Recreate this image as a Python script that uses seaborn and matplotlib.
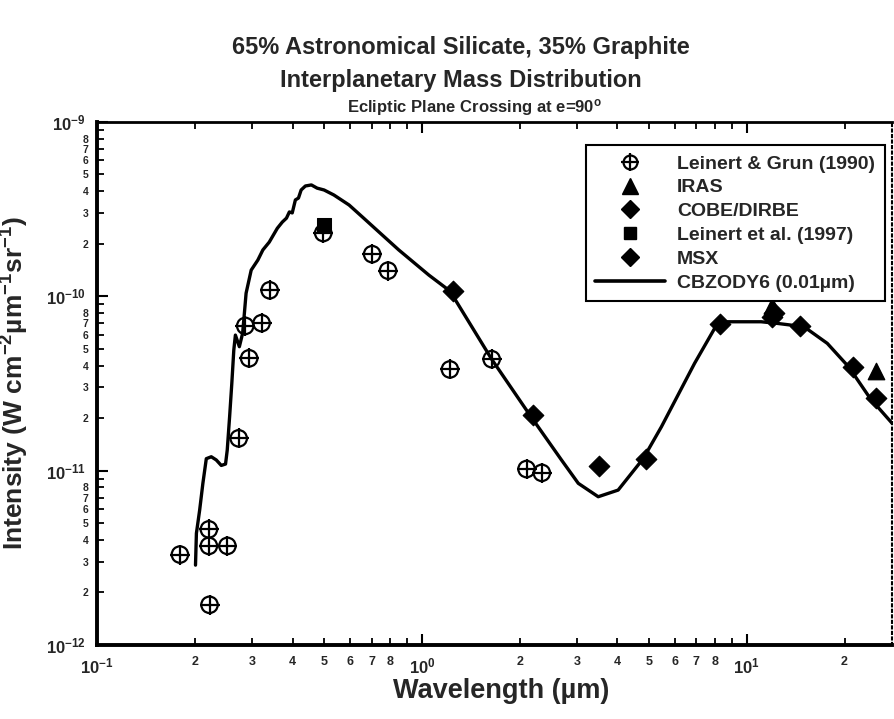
import numpy as np
import matplotlib
matplotlib.use("Agg")
import matplotlib.pyplot as plt
import seaborn as sns
from matplotlib.lines import Line2D
from matplotlib.legend_handler import HandlerTuple
from matplotlib.ticker import LogLocator, LogFormatterSciNotation, FuncFormatter

# ---- data ----
lg_wl = [0.180, 0.221, 0.221, 0.252, 0.222, 0.273, 0.286, 0.321, 0.294, 0.340,
         0.497, 0.703, 0.787, 1.22, 1.64, 2.10, 2.34]
lg_int = [3.3e-12, 4.6e-12, 3.7e-12, 3.7e-12, 1.7e-12, 1.53e-11, 6.75e-11, 7.0e-11,
          4.4e-11, 1.08e-10, 2.3e-10, 1.74e-10, 1.40e-10, 3.8e-11, 4.35e-11,
          1.02e-11, 9.7e-12]

iras_wl = [12, 25]
iras_int = [8.8e-11, 3.7e-11]

dirbe_wl = [1.25, 2.2, 3.5, 4.9, 12, 25]
dirbe_int = [1.07e-10, 2.08e-11, 1.06e-11, 1.17e-11, 7.6e-11, 2.6e-11]

leinert97_wl = [0.5]
leinert97_int = [2.55e-10]

msx_wl = [8.3, 12.1, 14.6, 21.3]
msx_int = [6.9e-11, 8.0e-11, 6.75e-11, 3.9e-11]

model_wl = [0.201, 0.2023, 0.207, 0.2118, 0.217, 0.2248, 0.2329, 0.2413, 0.2487,
            0.2517, 0.256, 0.260, 0.2637, 0.2667, 0.2743, 0.2807, 0.2842, 0.2877,
            0.2983, 0.3127, 0.324, 0.339, 0.359, 0.372, 0.383, 0.391, 0.399, 0.408,
            0.417, 0.425, 0.438, 0.457, 0.476, 0.500, 0.536, 0.597, 0.662, 0.738,
            0.849, 1.051, 1.22, 1.64, 2.15, 2.69, 3.03, 3.49, 4.02, 4.8, 5.46, 6.91,
            8.1, 8.75, 11.07, 12.4, 15.0, 17.7, 20.6, 24.0, 28.0]
model_int = [2.87e-12, 4.37e-12, 5.93e-12, 8.45e-12, 1.17e-11, 1.20e-11, 1.15e-11,
             1.07e-11, 1.09e-11, 1.31e-11, 2.04e-11, 3.16e-11, 4.91e-11, 5.98e-11,
             5.13e-11, 6.12e-11, 7.96e-11, 1.04e-10, 1.41e-10, 1.61e-10, 1.84e-10,
             2.04e-10, 2.45e-10, 2.66e-10, 2.80e-10, 3.04e-10, 3.00e-10, 3.56e-10,
             3.65e-10, 4.06e-10, 4.28e-10, 4.34e-10, 4.16e-10, 4.06e-10, 3.80e-10,
             3.33e-10, 2.80e-10, 2.33e-10, 1.84e-10, 1.32e-10, 1.07e-10, 4.35e-11,
             2.08e-11, 1.15e-11, 8.45e-12, 7.08e-12, 7.73e-12, 1.17e-11, 1.78e-11,
             4.12e-11, 6.9e-11, 7.13e-11, 7.13e-11, 6.98e-11, 6.68e-11, 5.36e-11,
             3.93e-11, 2.59e-11, 1.87e-11]

XLIM = (0.1, 28)
YLIM = (1e-12, 1e-9)

# ---- style ----
sns.set_style("ticks")
plt.rcParams["font.family"] = ["Liberation Sans Narrow", "Liberation Sans", "DejaVu Sans"]
plt.rcParams["font.weight"] = "bold"
plt.rcParams["mathtext.fontset"] = "custom"
plt.rcParams["mathtext.rm"] = "Liberation Sans:bold"
plt.rcParams["mathtext.bf"] = "Liberation Sans:bold"
plt.rcParams["mathtext.default"] = "rm"

fig = plt.figure(figsize=(8.95, 7.19), dpi=100)
ax = fig.add_axes([97 / 895, 74 / 719, 795 / 895, 523.3 / 719])

sns.lineplot(x=model_wl, y=model_int, ax=ax, color="black", lw=2.4,
             estimator=None, sort=False)
sns.scatterplot(x=lg_wl, y=lg_int, ax=ax, marker="o", s=140, color="none",
                edgecolor="black", linewidth=1.6, zorder=3)
sns.scatterplot(x=lg_wl, y=lg_int, ax=ax, marker="+", s=220, color="black",
                linewidth=1.6, zorder=3)
sns.scatterplot(x=dirbe_wl, y=dirbe_int, ax=ax, marker="D", s=110, color="black",
                edgecolor="black", zorder=4)
sns.scatterplot(x=msx_wl, y=msx_int, ax=ax, marker="D", s=110, color="black",
                edgecolor="black", zorder=4)
sns.scatterplot(x=iras_wl, y=iras_int, ax=ax, marker="^", s=140, color="black",
                edgecolor="black", zorder=5)
sns.scatterplot(x=leinert97_wl, y=leinert97_int, ax=ax, marker="s", s=90,
                color="black", edgecolor="black", zorder=4)

ax.set_xscale("log")
ax.set_yscale("log")
ax.set_xlim(*XLIM)
ax.set_ylim(*YLIM)

sci = LogFormatterSciNotation()


def make_fmts(lo, hi):
    def major(v, pos):
        if v < lo * 0.999 or v > hi * 1.001:
            return ""
        return sci(v, pos)

    def minor(v, pos):
        if v < lo * 0.999 or v > hi * 1.001:
            return ""
        d = int(round(v / 10 ** np.floor(np.log10(v) + 1e-9)))
        return str(d) if 2 <= d <= 8 else ""
    return FuncFormatter(major), FuncFormatter(minor)


for axis, lims in ((ax.xaxis, XLIM), (ax.yaxis, YLIM)):
    fmaj, fmin = make_fmts(*lims)
    axis.set_major_locator(LogLocator(base=10, numticks=10))
    axis.set_minor_locator(LogLocator(base=10, subs=np.arange(2, 10), numticks=30))
    sci.axis = axis
    axis.set_major_formatter(fmaj)
    axis.set_minor_formatter(fmin)

ax.tick_params(which="both", direction="in", top=True, right=False, color="black")
ax.tick_params(which="major", length=8, width=1.5, labelsize=12, pad=8)
ax.tick_params(which="minor", length=5, width=1.3, labelsize=9, pad=8)
ax.tick_params(axis="y", which="minor", labelsize=7.5, pad=6)

for side in ("left", "bottom"):
    ax.spines[side].set_linewidth(2.8)
ax.spines["top"].set_linewidth(2)
ax.spines["right"].set_linewidth(1.5)
ax.spines["right"].set_linestyle(":")
for s in ax.spines.values():
    s.set_color("black")

ax.set_xlabel("Wavelength (µm)", fontsize=19.5, fontweight="bold")
ax.xaxis.set_label_coords((501 - 97) / 795, -0.063)
ax.set_ylabel("Intensity (W cm$^{-2}$µm$^{-1}$sr$^{-1}$)", fontsize=19,
              fontweight="bold")
ax.yaxis.set_label_coords(-0.083, 0.5)
fig.text(0.53, 0.851, "Ecliptic Plane Crossing at e=90$^{o}$", ha="center",
         va="center", fontsize=12, fontweight="bold")
fig.text(0.515, 0.934, "65% Astronomical Silicate, 35% Graphite", ha="center",
         va="center", fontsize=17, fontweight="bold")
fig.text(0.515, 0.888, "Interplanetary Mass Distribution", ha="center",
         va="center", fontsize=17, fontweight="bold")

# legend
h_lg = (Line2D([], [], marker="o", ls="none", mfc="none", mec="black", ms=10, mew=1.6),
        Line2D([], [], marker="+", ls="none", color="black", ms=13, mew=1.6))
handles = [
    h_lg,
    Line2D([], [], marker="^", ls="none", color="black", ms=11),
    Line2D([], [], marker="D", ls="none", color="black", ms=9),
    Line2D([], [], marker="s", ls="none", color="black", ms=9),
    Line2D([], [], marker="D", ls="none", color="black", ms=9),
    Line2D([], [], color="black", lw=2.6),
]
labels = ["Leinert & Grun (1990)", "IRAS", "COBE/DIRBE", "Leinert et al. (1997)",
          "MSX", "CBZODY6 (0.01µm)"]
leg = ax.legend(handles, labels, loc="upper right", bbox_to_anchor=(0.991, 0.955),
                borderaxespad=0,
                handler_map={tuple: HandlerTuple(ndivide=1)},
                prop={"size": 14, "weight": "bold"}, handlelength=3.6,
                labelspacing=0.32, borderpad=0.5, handletextpad=0.6,
                fancybox=False, framealpha=1, edgecolor="black")
leg.get_frame().set_linewidth(1.5)

fig.savefig("out.png", dpi=100)
